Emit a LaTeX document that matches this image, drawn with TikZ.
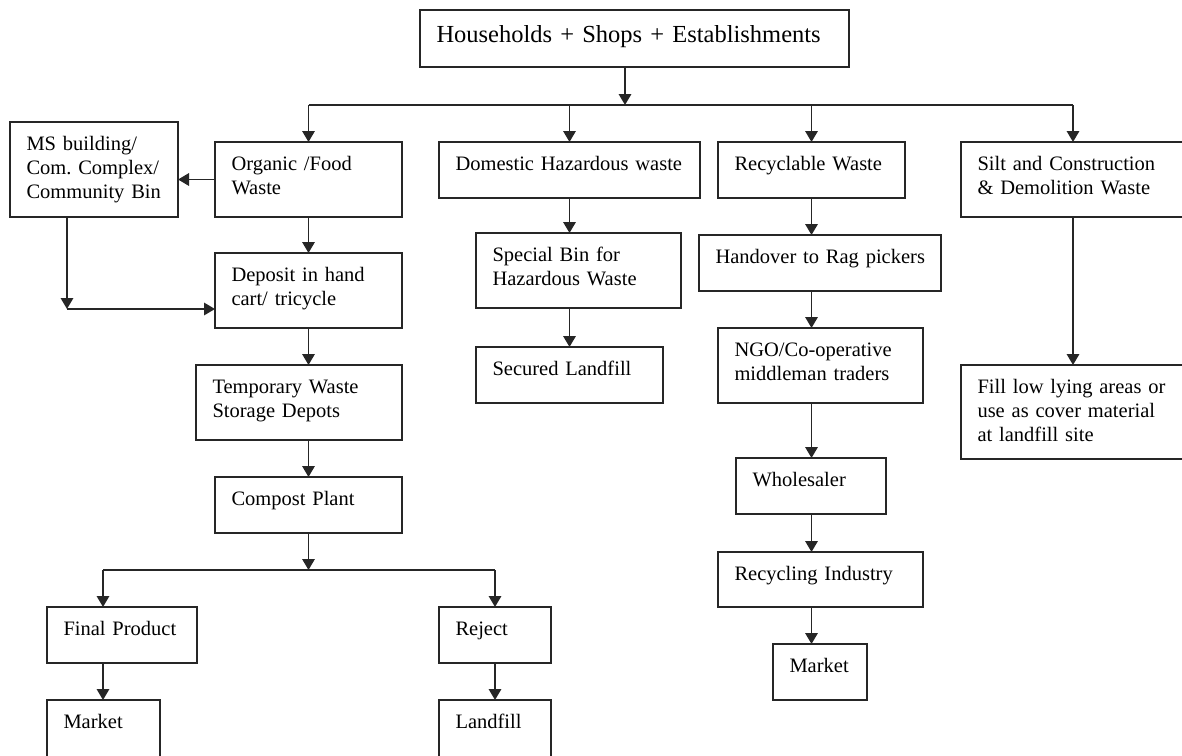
\documentclass[tikz,border=0pt]{standalone}
\usepackage{fontspec}
\setmainfont{Liberation Serif}
\usetikzlibrary{arrows.meta}
\frenchspacing
\tikzset{
  box/.style 2 args={draw=black!85, line width=1.8pt, anchor=north west,
    inner xsep=0pt, inner ysep=0pt, outer sep=0pt,
    text width=#1, text height=28pt, text depth=#2-28pt,
    execute at begin node={\raggedright\leftskip=16.5pt\hyphenpenalty=10000},
    font=\fontsize{20.5}{24}\selectfont},
  link/.style={draw=black!85, line width=1.7pt},
  arr/.style={link, -{Triangle[width=12.5pt,length=11pt]}}
}
\begin{document}
\begin{tikzpicture}[x=1pt,y=-1pt]
  \useasboundingbox (0,0) rectangle (1182,755);
  \clip (0,0) rectangle (1182,755);
  % sources
  \node[box={429pt}{57pt}, font=\fontsize{24.5}{28}\selectfont, text height=32pt, text depth=25pt] (top) at (420,10) {Households + Shops + Establishments};
  % first row
  \node[box={168pt}{95pt}] (ms) at (10,122) {MS building/\\Com. Complex/\\Community Bin};
  \node[box={187pt}{75pt}] (org) at (215,142) {Organic /Food\\Waste};
  \node[box={261pt}{56pt}] (dom) at (439,142) {Domestic Hazardous waste};
  \node[box={187pt}{56pt}] (rec) at (718,142) {Recyclable Waste};
  \node[box={224pt}{75pt}] (silt) at (961,142) {Silt and Construction\\\& Demolition Waste};
  % organic branch
  \node[box={187pt}{75pt}] (dep) at (215,253) {Deposit in hand\\cart/ tricycle};
  \node[box={206pt}{75pt}] (temp) at (196,365) {Temporary Waste\\Storage Depots};
  \node[box={187pt}{56pt}] (comp) at (215,477) {Compost Plant};
  \node[box={150pt}{56pt}] (fin) at (47,607) {Final Product};
  \node[box={112pt}{56pt}] (rej) at (439,607) {Reject};
  \node[box={113pt}{62pt}] (mkta) at (47,700) {Market};
  \node[box={112pt}{62pt}] (land) at (439,700) {Landfill};
  % hazardous branch
  \node[box={205pt}{75pt}] (spec) at (476,233) {Special Bin for\\Hazardous Waste};
  \node[box={187pt}{56pt}] (sec) at (476,347) {Secured Landfill};
  % recyclable branch
  \node[box={242pt}{56pt}] (hand) at (699,235) {Handover to Rag pickers};
  \node[box={205pt}{75pt}] (ngo) at (718,328) {NGO/Co-operative\\middleman traders};
  \node[box={150pt}{56pt}] (whole) at (736,458) {Wholesaler};
  \node[box={205pt}{55pt}] (recind) at (718,552) {Recycling Industry};
  \node[box={94pt}{56pt}] (mktb) at (773,644) {Market};
  % silt branch
  \node[box={224pt}{94pt}] (fill) at (961,365) {Fill low lying areas or\\use as cover material\\at landfill site};

  % connectors
  \coordinate (hub) at (625,105);
  \draw[arr] (hub |- top.south) -- (hub);
  \draw[link] (org.north |- hub) -- (silt.north |- hub);
  \draw[arr] (org.north |- hub) -- (org.north);
  \draw[arr] (dom.north |- hub) -- (dom.north);
  \draw[arr] (rec.north |- hub) -- (rec.north);
  \draw[arr] (silt.north |- hub) -- (silt.north);

  \draw[arr] (org.west) -- (org.west -| ms.east);
  \coordinate (bend) at (67,309);
  \draw[arr] (bend |- ms.south) -- (bend);
  \draw[arr] (bend) -- (bend -| dep.west);
  \draw[arr] (org.south) -- (dep.north);
  \draw[arr] (dep.south) -- (dep.south |- temp.north);
  \draw[arr] (temp.south -| comp.north) -- (comp.north);
  \coordinate (split) at (308.5,570);
  \coordinate (fdrop) at (103,570);
  \draw[arr] (comp.south) -- (split);
  \draw[link] (fdrop) -- (rej.north |- split);
  \draw[arr] (fdrop) -- (fdrop |- fin.north);
  \draw[arr] (rej.north |- split) -- (rej.north);
  \draw[arr] (fdrop |- fin.south) -- (fdrop |- mkta.north);
  \draw[arr] (rej.south) -- (land.north);

  \draw[arr] (dom.south) -- (dom.south |- spec.north);
  \draw[arr] (dom.south |- spec.south) -- (sec.north);

  \draw[arr] (rec.south) -- (rec.south |- hand.north);
  \draw[arr] (rec.south |- hand.south) -- (rec.south |- ngo.north);
  \draw[arr] (rec.south |- ngo.south) -- (rec.south |- whole.north);
  \draw[arr] (rec.south |- whole.south) -- (rec.south |- recind.north);
  \draw[arr] (rec.south |- recind.south) -- (rec.south |- mktb.north);

  \draw[arr] (silt.south) -- (fill.north);
\end{tikzpicture}
\end{document}
